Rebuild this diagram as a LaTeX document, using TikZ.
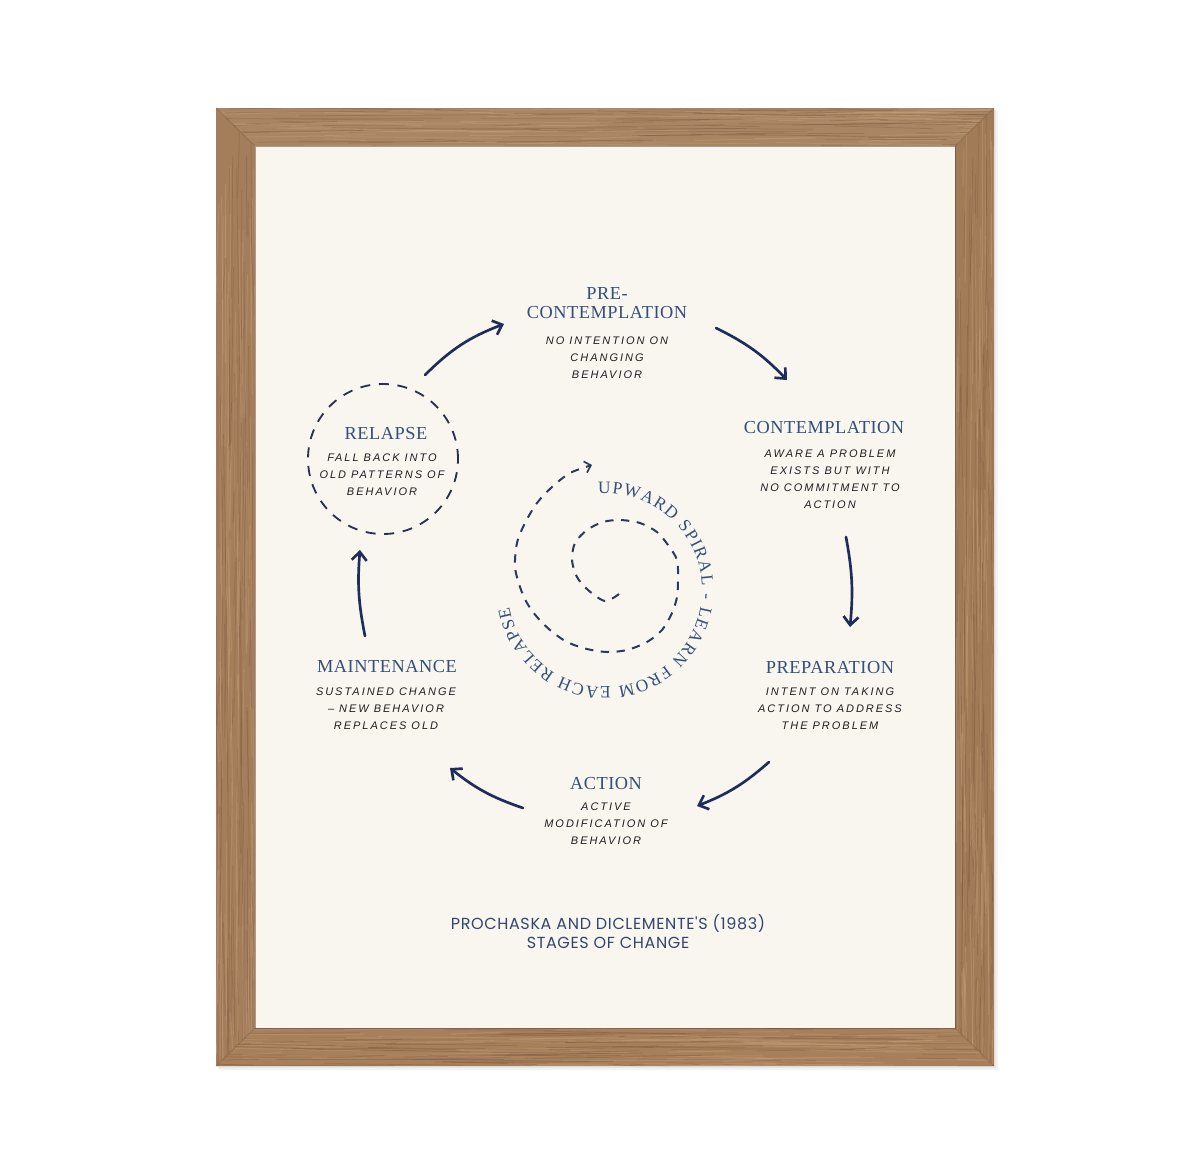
\documentclass[tikz,border=0pt]{standalone}
\usepackage{fontspec}
\usetikzlibrary{arrows.meta,decorations.text}
\newfontfamily\titlefont{Liberation Serif}[LetterSpace=3]
\newfontfamily\handfont{Liberation Sans}[LetterSpace=18]
\newfontfamily\capfont{Poppins}[LetterSpace=4]
\definecolor{navy}{HTML}{1F2D5C}
\definecolor{titleblue}{HTML}{34507A}
\definecolor{inkgray}{HTML}{1E1E22}
\definecolor{matcol}{HTML}{F9F5EF}
\definecolor{woodA}{HTML}{AA8563}
\definecolor{woodB}{HTML}{A47D5A}
\definecolor{woodC}{HTML}{A17A57}
\definecolor{woodD}{HTML}{A67F5B}
\definecolor{grainD}{HTML}{74523A}
\definecolor{grainL}{HTML}{C7A27D}
\definecolor{ringcol}{HTML}{2A3150}
\definecolor{spircol}{HTML}{2C3A5E}
\definecolor{capcol}{HTML}{34466E}
\tikzset{
  stagetitle/.style={font=\titlefont\fontsize{11}{11.4}\selectfont, text=titleblue, align=center, inner sep=0pt, anchor=north},
  stagedesc/.style={font=\handfont\itshape\fontsize{6.6}{10.2}\selectfont, text=inkgray, align=center, inner sep=0pt, anchor=north},
  cyc/.style={draw=navy, line width=1.6pt, line cap=round, -{Straight Barb[length=5pt,width=9pt]}},
  grainline/.style={draw=grainD, opacity=0.3, line width=0.45pt},
  grainlight/.style={draw=grainL, opacity=0.35, line width=0.6pt},
}
\begin{document}
\begin{tikzpicture}[x=0.6pt,y=-0.6pt]
\useasboundingbox (0,0) rectangle (1200,1164);
\fill[white] (0,0) rectangle (1200,1164);
% shadow
\fill[black!5] (219,112) rectangle (998,1070);
\fill[black!9] (218,110) rectangle (996,1068);
% frame bars
\fill[woodA] (216,108) -- (994,108) -- (955,146) -- (255,146) -- cycle;
\fill[woodB] (216,108) -- (255,146) -- (255,1028) -- (216,1066) -- cycle;
\fill[woodC] (994,108) -- (955,146) -- (955,1028) -- (994,1066) -- cycle;
\fill[woodD] (216,1066) -- (994,1066) -- (955,1028) -- (255,1028) -- cycle;
\pgfmathsetseed{7}
\begin{scope}
\clip (216,108) -- (994,108) -- (955,146) -- (255,146) -- cycle;
\foreach \k in {1,...,80}{
  \pgfmathsetmacro\yy{108+38*rnd}
  \pgfmathsetmacro\xa{190+800*rnd}
  \pgfmathsetmacro\ln{30+200*rnd}
  \pgfmathsetmacro\dy{6*rnd-3}
  \draw[grainline] (\xa,\yy) -- ++(\ln,\dy);
  \pgfmathsetmacro\yb{108+38*rnd}
  \pgfmathsetmacro\xb{190+800*rnd}
  \draw[grainlight] (\xb,\yb) -- ++(\ln,-\dy);
}
\end{scope}
\begin{scope}
\clip (216,1066) -- (994,1066) -- (955,1028) -- (255,1028) -- cycle;
\foreach \k in {1,...,80}{
  \pgfmathsetmacro\yy{1028+38*rnd}
  \pgfmathsetmacro\xa{190+800*rnd}
  \pgfmathsetmacro\ln{30+200*rnd}
  \pgfmathsetmacro\dy{6*rnd-3}
  \draw[grainline] (\xa,\yy) -- ++(\ln,\dy);
  \pgfmathsetmacro\yb{1028+38*rnd}
  \pgfmathsetmacro\xb{190+800*rnd}
  \draw[grainlight] (\xb,\yb) -- ++(\ln,-\dy);
}
\end{scope}
\begin{scope}
\clip (216,108) -- (255,146) -- (255,1028) -- (216,1066) -- cycle;
\foreach \k in {1,...,90}{
  \pgfmathsetmacro\xx{216+39*rnd}
  \pgfmathsetmacro\ya{90+980*rnd}
  \pgfmathsetmacro\ln{30+200*rnd}
  \pgfmathsetmacro\dx{6*rnd-3}
  \draw[grainline] (\xx,\ya) -- ++(\dx,\ln);
  \pgfmathsetmacro\xb{216+39*rnd}
  \pgfmathsetmacro\yb{90+980*rnd}
  \draw[grainlight] (\xb,\yb) -- ++(-\dx,\ln);
}
\end{scope}
\begin{scope}
\clip (994,108) -- (955,146) -- (955,1028) -- (994,1066) -- cycle;
\foreach \k in {1,...,90}{
  \pgfmathsetmacro\xx{955+39*rnd}
  \pgfmathsetmacro\ya{90+980*rnd}
  \pgfmathsetmacro\ln{30+200*rnd}
  \pgfmathsetmacro\dx{6*rnd-3}
  \draw[grainline] (\xx,\ya) -- ++(\dx,\ln);
  \pgfmathsetmacro\xb{955+39*rnd}
  \pgfmathsetmacro\yb{90+980*rnd}
  \draw[grainlight] (\xb,\yb) -- ++(-\dx,\ln);
}
\end{scope}
% miter joints
\draw[grainD, opacity=0.45, line width=0.5pt] (216,108) -- (255,146) (994,108) -- (955,146) (216,1066) -- (255,1028) (994,1066) -- (955,1028);
% mat
\fill[matcol] (255,146) rectangle (955,1028);
\draw[grainD!80!black, opacity=0.5, line width=0.6pt] (255,146) rectangle (955,1028);

% ---- stage texts ----
\node[stagetitle] (pre) at (607,287) {PRE-\\CONTEMPLATION};
\node[stagedesc] (pred) at (607,336) {NO INTENTION ON\\CHANGING\\BEHAVIOR};
\node[stagetitle] (con) at (824,421) {CONTEMPLATION};
\node[stagedesc] (cond) at (830,449) {AWARE A PROBLEM\\EXISTS BUT WITH\\NO COMMITMENT TO\\ACTION};
\node[stagetitle] (prep) at (830,661) {PREPARATION};
\node[stagedesc] (prepd) at (830,687) {INTENT ON TAKING\\ACTION TO ADDRESS\\THE PROBLEM};
\node[stagetitle] (act) at (606,777) {ACTION};
\node[stagedesc] (actd) at (606,802) {ACTIVE\\MODIFICATION OF\\BEHAVIOR};
\node[stagetitle] (mai) at (387,660) {MAINTENANCE};
\node[stagedesc] (maid) at (386,687) {SUSTAINED CHANGE\\– NEW BEHAVIOR\\REPLACES OLD};
\node[stagetitle] (rel) at (386,427) {RELAPSE};
\node[stagedesc] (reld) at (382,453) {FALL BACK INTO\\OLD PATTERNS OF\\BEHAVIOR};
\node[draw=ringcol, circle, minimum size=90pt, inner sep=0pt, line width=1.1pt, dash pattern=on 6pt off 5.2pt] (ring) at (383,459) {};

% ---- cycle arrows ----
\coordinate (a1s) at (425,375); \coordinate (a1e) at (504,324);
\coordinate (a2s) at (716,328); \coordinate (a2e) at (787,380);
\coordinate (a3s) at (846,537); \coordinate (a3e) at (850,627);
\coordinate (a4s) at (769,762); \coordinate (a4e) at (697,806);
\coordinate (a5s) at (523,808); \coordinate (a5e) at (450,768);
\coordinate (a6s) at (365,636); \coordinate (a6e) at (360,550);
\draw[cyc] (a1s) to[bend left=12] (a1e);
\draw[cyc] (a2s) to[bend left=10] (a2e);
\draw[cyc] (a3s) to[bend left=8] (a3e);
\draw[cyc] (a4s) to[bend left=10] (a4e);
\draw[cyc] (a5s) to[bend left=10] (a5e);
\draw[cyc] (a6s) to[bend left=8] (a6e);

% ---- spiral ----
\draw[spircol, line width=1.2pt, dash pattern=on 5pt off 4.5pt, -{Straight Barb[length=3.5pt,width=7pt,line width=1pt]}]
  plot[smooth] coordinates {(619,594) (605,601) (588,590) (577,577) (572,560) (575,543) (587,530) (603,522) (620,520) (640,523) (657,532) (668,545) (677,560) (678,580) (677,597) (672,613) (662,630) (647,642) (627,650) (607,652) (587,649) (567,642) (550,630) (537,617) (527,603) (520,587) (515,567) (517,543) (525,523) (537,503) (552,487) (570,473) (592,465)};
\path[decorate, decoration={text along path, text align={fit to path},
  text={|\titlefont\fontsize{10.4}{12}\selectfont\color{titleblue}|UPWARD SPIRAL - LEARN FROM EACH RELAPSE}}]
  (605,590) ++(-94:97) arc[start angle=-94, end angle=170, radius=97];

% ---- caption ----
\node[font=\capfont\fontsize{9.6}{11.4}\selectfont, text=capcol, align=center, inner sep=0pt, anchor=north] (cap) at (608,914) {PROCHASKA AND DICLEMENTE'S (1983)\\STAGES OF CHANGE};
\end{tikzpicture}
\end{document}
